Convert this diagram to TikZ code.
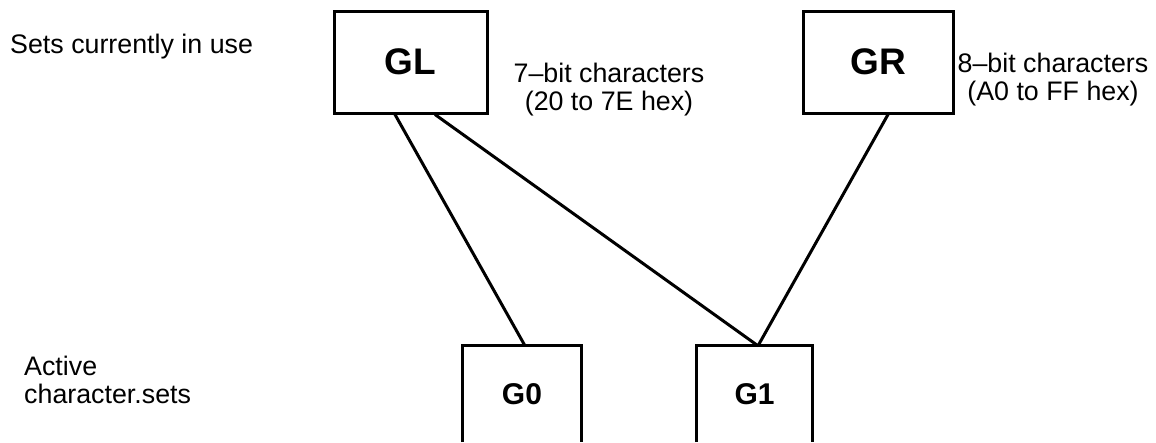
\documentclass[tikz,border=0pt]{standalone}
\usepackage{fontspec}
\setmainfont{Liberation Sans}
\begin{document}
\begin{tikzpicture}[x=1pt,y=-1pt,
  bigbox/.style={draw,line width=3pt,minimum width=#1,minimum height=102pt,inner sep=0pt,
    font=\bfseries\fontsize{37}{40}\selectfont},
  lowbox/.style={minimum width=#1,minimum height=96pt,inner sep=0pt,
    font=\bfseries\fontsize{30}{33}\selectfont},
  lbl/.style={inner sep=0pt,font=\fontsize{26.8}{27.5}\selectfont},
  conn/.style={line width=3pt}]
\useasboundingbox (0,0) rectangle (1156,442);
% upper boxes
\node[bigbox=153pt] (GL) at (410.5,62) {GL};
\node[bigbox=150pt] (GR) at (878,62) {GR};
% lower (open) boxes
\node[lowbox=118pt] (G0) at (522,394) {G0};
\node[lowbox=115pt] (G1) at (754.5,394) {G1};
\draw[line width=3pt] (G0.south west) |- (G0.north) -| (G0.south east);
\draw[line width=3pt] (G1.south west) |- (G1.north) -| (G1.south east);
% labels
\node[lbl,anchor=base west] (top) at (10,53) {Sets currently in use};
\node[lbl,anchor=base west,align=left] (act) at (24,403) {Active\\character.sets};
\node[lbl,anchor=base,align=center] (sev) at (609,110) {7–bit characters\\(20 to 7E hex)};
\node[lbl,anchor=base,align=center] (eig) at (1053,100) {8–bit characters\\(A0 to FF hex)};
% connectors
\draw[conn] ([xshift=-15.5pt]GL.south) -- ([xshift=3pt]G0.north);
\draw[conn] ([xshift=24.5pt]GL.south) -- ([xshift=3.5pt]G1.north);
\draw[conn] ([xshift=10pt]GR.south) -- ([xshift=3.5pt]G1.north);
\end{tikzpicture}
\end{document}
